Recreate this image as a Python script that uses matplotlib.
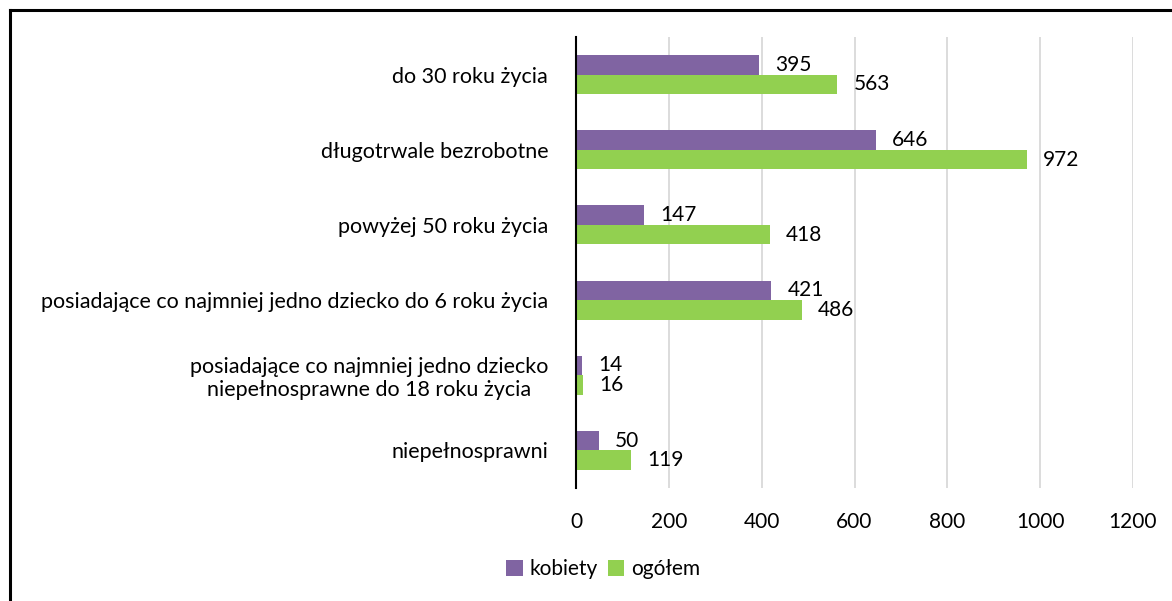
import matplotlib
matplotlib.use("Agg")
import matplotlib.pyplot as plt
from matplotlib.lines import Line2D
import numpy as np

plt.rcParams['font.family'] = ['Lato', 'DejaVu Sans']

categories = [
    "do 30 roku życia",
    "długotrwale bezrobotne",
    "powyżej 50 roku życia",
    "posiadające co najmniej jedno dziecko do 6 roku życia",
    "posiadające co najmniej jedno dziecko\nniepełnosprawne do 18 roku życia",
    "niepełnosprawni",
]
kobiety = [395, 646, 147, 421, 14, 50]
ogolem = [563, 972, 418, 486, 16, 119]
series_names = ["kobiety", "ogółem"]
xticks = [0, 200, 400, 600, 800, 1000, 1200]

purple = "#8064A2"
green = "#92D050"

W, H = 1172, 601
fig = plt.figure(figsize=(W / 100, H / 100), dpi=100)
ax = fig.add_axes([576 / W, 1 - 488 / H, (1133 - 576) / W, (488 - 37) / H])

n = len(categories)
y = np.arange(n)
bh = 0.26
ax.barh(y - bh / 2, kobiety, height=bh, color=purple, label=series_names[0])
ax.barh(y + bh / 2, ogolem, height=bh, color=green, label=series_names[1])

fs = 15
fs_cat = 15.5
for i in range(n):
    ax.annotate(str(kobiety[i]), (kobiety[i], y[i] - bh / 2), xytext=(16, 0),
                textcoords="offset pixels", va="center", ha="left", fontsize=fs)
    ax.annotate(str(ogolem[i]), (ogolem[i], y[i] + bh / 2), xytext=(16, 0),
                textcoords="offset pixels", va="center", ha="left", fontsize=fs)

ax.set_ylim(n - 0.5, -0.5)
ax.set_xlim(0, 1200)
ax.set_xticks(xticks)
ax.set_xticklabels([str(v) for v in xticks], fontsize=fs)
ax.set_yticks(y)
ax.set_yticklabels(categories, fontsize=fs_cat, ha="right")
ax.tick_params(axis="y", length=0, pad=20)
ax.tick_params(axis="x", length=0, pad=17)
for lbl in ax.get_yticklabels():
    lbl.set_multialignment("center")

ax.grid(axis="x", color="#D9D9D9", linewidth=1.3)
ax.set_axisbelow(True)
for s in ["top", "right", "bottom"]:
    ax.spines[s].set_visible(False)
ax.spines["left"].set_color("black")
ax.spines["left"].set_linewidth(1.5)
ax.spines["left"].set_zorder(5)

leg = fig.legend(loc="center", bbox_to_anchor=(603 / W, 1 - 569 / H), ncol=2,
                 frameon=False, fontsize=fs, handlelength=0.8, handleheight=0.8,
                 handletextpad=0.3, columnspacing=0.5)

# outer frame (top and left visible)
fig.add_artist(Line2D([10 / W, 1.0], [1 - 10 / H, 1 - 10 / H], color="black", linewidth=2.2,
                      transform=fig.transFigure))
fig.add_artist(Line2D([10 / W, 10 / W], [0, 1 - 10 / H], color="black", linewidth=2.2,
                      transform=fig.transFigure))

fig.savefig("out.png", dpi=100)
